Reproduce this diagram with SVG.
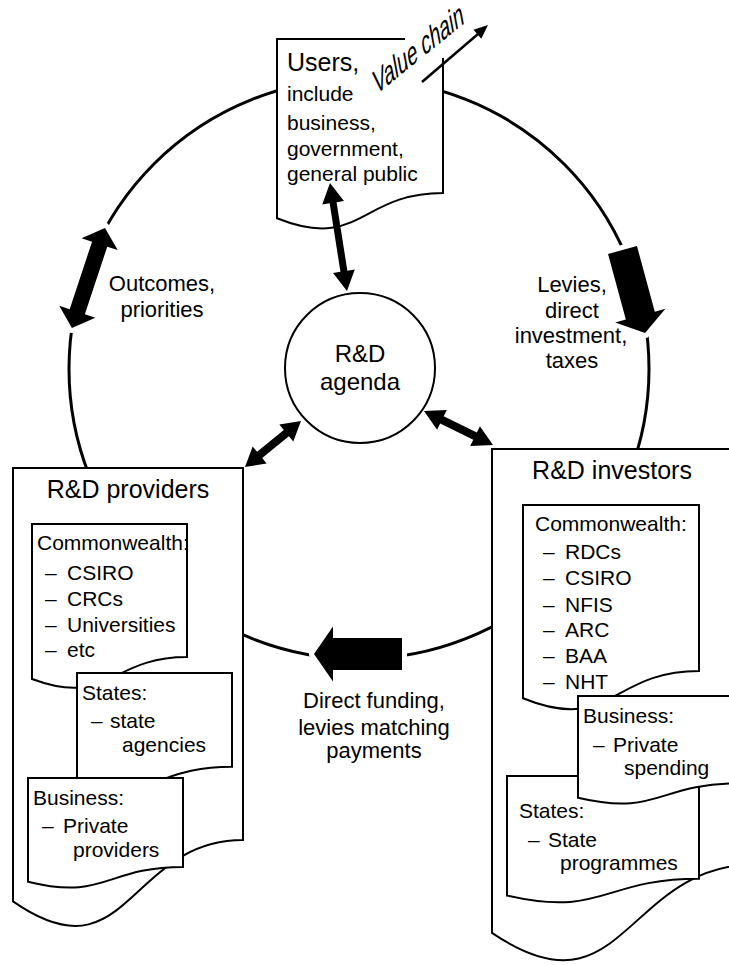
<svg xmlns="http://www.w3.org/2000/svg" width="729" height="965" viewBox="0 0 729 965">
<style>
text{font-family:"Liberation Sans",Arial,sans-serif;fill:#000}
.doc{fill:#fff;stroke:#000;stroke-width:2;stroke-linejoin:miter}
.t25{font-size:25px}
.t24{font-size:24px;text-anchor:middle}
.t22{font-size:22px;text-anchor:middle}
.t21{font-size:21px}
.big{fill:#000;stroke:#fff;stroke-width:10;stroke-linejoin:round;paint-order:stroke}
.thin{fill:#000}
</style>
<rect width="729" height="965" fill="#fff"/>
<g id="cycle">
<circle cx="359" cy="369" r="290" fill="none" stroke="#000" stroke-width="3"/>
</g>
<g id="users">
<path d="M277,39 H443 V193 C360,193 360,251.5 277,218.3 Z" fill="#fff"/>
<path d="M405,39 H277 V218.3 C360,251.5 360,193 443,193 V58" fill="none" stroke="#000" stroke-width="2"/>
<text class="t25" x="287" y="71">Users,</text>
<text class="t21" x="287" y="101">include</text>
<text class="t21" x="287" y="130">business,</text>
<text class="t21" x="287" y="156">government,</text>
<text class="t21" x="287" y="181">general public</text>
</g>
<g id="value-chain">
<text transform="matrix(0.718,-0.582,0.25,1.33,376,95)" style="font-size:24px">Value chain</text>
<line x1="422" y1="82" x2="478" y2="34" stroke="#000" stroke-width="2.5"/>
<polygon points="488,25 481.3,38.7 473.5,29.7" fill="#000"/>
</g>
<g id="agenda">
<circle cx="360" cy="368" r="75" fill="#fff" stroke="#000" stroke-width="2"/>
<text class="t24" x="360" y="362">R&amp;D</text>
<text class="t24" x="360" y="390">agenda</text>
</g>
<g id="providers">
<path class="doc" d="M13,468 H243 V840.1 C128,840.1 128,981.6 13,901.4 Z"/>
<text class="t25" x="128" y="498" text-anchor="middle">R&amp;D providers</text>
<g id="providers-commonwealth">
<path class="doc" d="M32,524 H187 V657.1 C109.5,657.1 109.5,707.8 32,679 Z"/>
<text class="t21" x="37" y="550">Commonwealth:</text>
<text class="t21" y="580"><tspan x="45">–</tspan><tspan x="67">CSIRO</tspan></text>
<text class="t21" y="606"><tspan x="45">–</tspan><tspan x="67">CRCs</tspan></text>
<text class="t21" y="632"><tspan x="45">–</tspan><tspan x="67">Universities</tspan></text>
<text class="t21" y="657"><tspan x="45">–</tspan><tspan x="67">etc</tspan></text>
</g>
<g id="providers-states">
<path class="doc" d="M77,673 H232 V766.8 C154.5,766.8 154.5,802.5 77,782.3 Z"/>
<text class="t21" x="82" y="700">States:</text>
<text class="t21" y="728"><tspan x="91">–</tspan><tspan x="110">state</tspan></text>
<text class="t21" x="122" y="752">agencies</text>
</g>
<g id="providers-business">
<path class="doc" d="M28,778 H183 V867 C105.5,867 105.5,900.9 28,881.7 Z"/>
<text class="t21" x="33" y="805">Business:</text>
<text class="t21" y="833"><tspan x="42">–</tspan><tspan x="63">Private</tspan></text>
<text class="t21" x="73" y="857">providers</text>
</g>
</g>
<g id="investors">
<path class="doc" d="M492,449 H756 V864.4 C624,864.4 624,1022.4 492,932.8 Z"/>
<text class="t25" x="612" y="479" text-anchor="middle">R&amp;D investors</text>
<g id="investors-commonwealth">
<path class="doc" d="M523,505 H699 V671 C611,671 611,734.1 523,698.3 Z"/>
<text class="t21" x="535" y="531">Commonwealth:</text>
<text class="t21" y="559"><tspan x="543">–</tspan><tspan x="565">RDCs</tspan></text>
<text class="t21" y="585"><tspan x="543">–</tspan><tspan x="565">CSIRO</tspan></text>
<text class="t21" y="612"><tspan x="543">–</tspan><tspan x="565">NFIS</tspan></text>
<text class="t21" y="637"><tspan x="543">–</tspan><tspan x="565">ARC</tspan></text>
<text class="t21" y="663"><tspan x="543">–</tspan><tspan x="565">BAA</tspan></text>
<text class="t21" y="689"><tspan x="543">–</tspan><tspan x="565">NHT</tspan></text>
</g>
<g id="investors-states">
<path class="doc" d="M507,776 H699 V878.7 C603,878.7 603,917.7 507,895.6 Z"/>
<text class="t21" x="519" y="818">States:</text>
<text class="t21" y="847"><tspan x="528">–</tspan><tspan x="548">State</tspan></text>
<text class="t21" x="560" y="870">programmes</text>
</g>
<g id="investors-business">
<path class="doc" d="M578,696 H738 V783.4 C658,783.4 658,816.7 578,797.8 Z"/>
<text class="t21" x="583" y="723">Business:</text>
<text class="t21" y="752"><tspan x="593">–</tspan><tspan x="613">Private</tspan></text>
<text class="t21" x="624" y="775">spending</text>
</g>
</g>
<g id="connectors">
<polygon class="big" points="0,0 17,-19 17,-8 88.3,-8 88.3,-19 105.3,0 88.3,19 88.3,8 17,8 17,19" transform="translate(105,228) rotate(108.3)"/>
<polygon class="big" points="0,-15 68,-15 68,-26 86,0 68,26 68,15 0,15" transform="translate(622.5,250) rotate(74.8)"/>
<polygon class="big" points="0,-16 69,-16 69,-27.5 88,0 69,27.5 69,16 0,16" transform="translate(402,654) rotate(180)"/>
<polygon class="thin" points="0,0 20,-11 20,-3.5 89.3,-3.5 89.3,-11 109.3,0 89.3,11 89.3,3.5 20,3.5 20,11" transform="translate(330,183) rotate(81.05)"/>
<polygon class="thin" points="0,0 19,-11 19,-4 53.5,-4 53.5,-11 72.5,0 53.5,11 53.5,4 19,4 19,11" transform="translate(301,421) rotate(140.6)"/>
<polygon class="thin" points="0,0 20,-11 20,-4 56.9,-4 56.9,-11 76.9,0 56.9,11 56.9,4 20,4 20,11" transform="translate(424,411) rotate(26.2)"/>
<text class="t22" x="162" y="291">Outcomes,</text>
<text class="t22" x="162" y="317">priorities</text>
<text class="t22" x="572" y="292">Levies,</text>
<text class="t22" x="572" y="318">direct</text>
<text class="t22" x="571" y="343">investment,</text>
<text class="t22" x="572" y="368">taxes</text>
<text class="t22" x="374" y="708">Direct funding,</text>
<text class="t22" x="374" y="735">levies matching</text>
<text class="t22" x="374" y="758">payments</text>
</g>
</svg>
